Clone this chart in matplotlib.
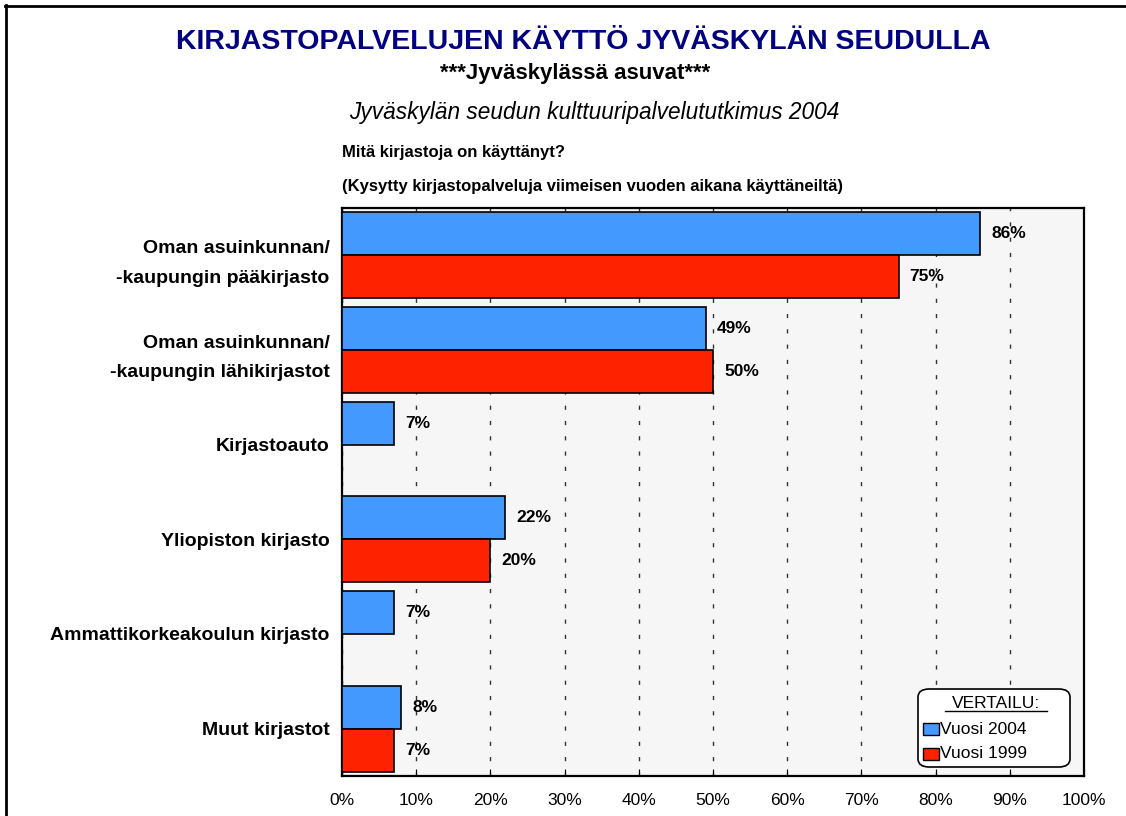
import matplotlib.pyplot as plt
import numpy as np
from matplotlib.patches import FancyBboxPatch, Rectangle
from matplotlib.lines import Line2D

plt.rcParams['font.family'] = ['Liberation Sans', 'DejaVu Sans']

categories = ['Oman asuinkunnan/\n-kaupungin pääkirjasto',
              'Oman asuinkunnan/\n-kaupungin lähikirjastot',
              'Kirjastoauto',
              'Yliopiston kirjasto',
              'Ammattikorkeakoulun kirjasto',
              'Muut kirjastot']
vuosi_2004 = [86, 49, 7, 22, 7, 8]
vuosi_1999 = [75, 50, None, 20, None, 7]
xticks = list(range(0, 101, 10))

W, H = 1126, 816
fig = plt.figure(figsize=(W / 100, H / 100), dpi=100)
ax = fig.add_axes([342 / W, 1 - 776 / H, (1084 - 342) / W, (776 - 208) / H])
ax.set_facecolor('#f6f6f6')

blue = '#4499ff'
red = '#ff2200'
bh = 0.455
y = np.arange(len(categories))
for i in range(len(categories)):
    v = vuosi_2004[i]
    ax.barh(i - bh / 2, v, height=bh, color=blue, edgecolor='black', linewidth=1.2, zorder=3)
    ax.text(v + 1.5, i - bh / 2, f'{v}%', va='center', ha='left', fontsize=12.5, fontweight='bold', zorder=4)
    v = vuosi_1999[i]
    if v is not None:
        ax.barh(i + bh / 2, v, height=bh, color=red, edgecolor='black', linewidth=1.2, zorder=3)
        ax.text(v + 1.5, i + bh / 2, f'{v}%', va='center', ha='left', fontsize=12.5, fontweight='bold', zorder=4)

ax.set_xlim(0, 100)
ax.set_ylim(len(categories) - 0.5, -0.5)
ax.set_xticks(xticks)
ax.set_xticklabels([f'{t}%' for t in xticks], fontsize=12.5)
ax.set_yticks(y)
ax.set_yticklabels(categories, fontsize=14, fontweight='bold', linespacing=1.95)
ax.tick_params(axis='y', length=0, pad=9)
ax.tick_params(axis='x', direction='in', length=5, pad=12)
ax.xaxis.grid(True, color='#333333', linestyle=(0, (3, 8)), linewidth=1.0, zorder=1)
ax.set_axisbelow(True)
for s in ax.spines.values():
    s.set_linewidth(1.6)

# titles
fig.text(583 / W, 1 - 42 / H, 'KIRJASTOPALVELUJEN KÄYTTÖ JYVÄSKYLÄN SEUDULLA',
         ha='center', va='center', fontsize=20.5, fontweight='bold', color='#000080')
fig.text(575 / W, 1 - 74 / H, '***Jyväskylässä asuvat***',
         ha='center', va='center', fontsize=16, fontweight='bold')
fig.text(594 / W, 1 - 113 / H, 'Jyväskylän seudun kulttuuripalvelututkimus 2004',
         ha='center', va='center', fontsize=16.3, style='italic')
fig.text(342 / W, 1 - 152 / H, 'Mitä kirjastoja on käyttänyt?',
         ha='left', va='center', fontsize=12, fontweight='bold')
fig.text(342 / W, 1 - 186 / H, '(Kysytty kirjastopalveluja viimeisen vuoden aikana käyttäneiltä)',
         ha='left', va='center', fontsize=12, fontweight='bold')

# legend box
lx0, ly0, lx1, ly1 = 918, 689, 1070, 767
box = FancyBboxPatch((lx0 / W, 1 - ly1 / H), (lx1 - lx0) / W, (ly1 - ly0) / H,
                     boxstyle='round,pad=0,rounding_size=0.01', transform=fig.transFigure,
                     facecolor='white', edgecolor='black', linewidth=1.2, zorder=10)
fig.patches.append(box)
fig.text(996 / W, 1 - 703 / H, 'VERTAILU:', ha='center', va='center', fontsize=12.5, zorder=11)
fig.add_artist(Line2D([945 / W, 1047 / W], [1 - 711 / H, 1 - 711 / H], color='black', linewidth=1, zorder=11))
for yy, col, lab in [(729, blue, 'Vuosi 2004'), (754, red, 'Vuosi 1999')]:
    fig.patches.append(Rectangle((923 / W, 1 - (yy + 6) / H), 16 / W, 12 / H, transform=fig.transFigure,
                                 facecolor=col, edgecolor='black', linewidth=1, zorder=11))
    fig.text(940 / W, 1 - yy / H, lab, ha='left', va='center', fontsize=12.5, zorder=11)

# outer frame: left and top only
for xs, ys in [([6, 6], [5, 816]), ([5, 1126], [6, 6])]:
    fig.add_artist(Line2D([x / W for x in xs], [1 - v / H for v in ys], color='black', linewidth=2))

fig.savefig('out.png', dpi=100)
